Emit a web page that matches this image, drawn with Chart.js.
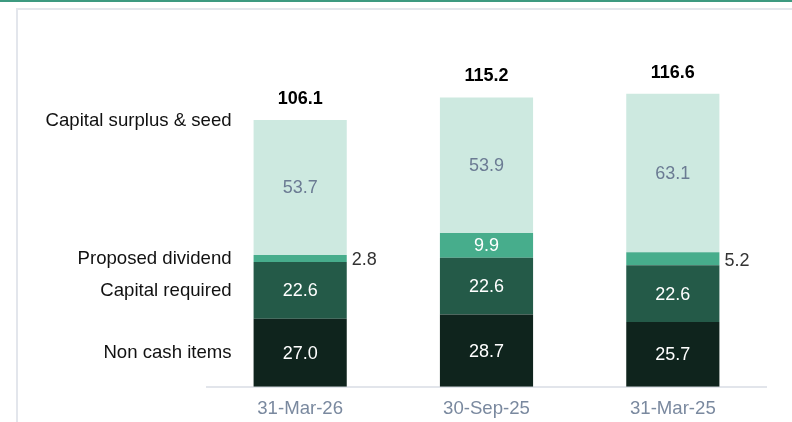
<!DOCTYPE html>
<html>
<head>
<meta charset="utf-8">
<script src="https://cdn.jsdelivr.net/npm/chart.js@4/dist/chart.umd.min.js"></script>
<style>
  html, body { margin: 0; padding: 0; background: #fff; }
  #wrap { position: relative; width: 792px; height: 422px; overflow: hidden; }
  #topline { position: absolute; left: 0; top: 0; width: 792px; height: 2px; background: #3d9a80; }
  #frame { position: absolute; left: 16px; top: 8px; right: -10px; bottom: -10px;
           border-left: 2px solid #e3e6ec; border-top: 2px solid #e3e6ec; }
  canvas { position: absolute; left: 0; top: 0; }
</style>
</head>
<body>
<div id="wrap">
  <div id="topline"></div>
  <div id="frame"></div>
  <canvas id="chart" width="792" height="431"></canvas>
</div>
<script>
const categories = ['31-Mar-26', '30-Sep-25', '31-Mar-25'];
const seriesNames = ['Non cash items', 'Capital required', 'Proposed dividend', 'Capital surplus & seed'];
const nonCash = [27.0, 28.7, 25.7];
const capitalRequired = [22.6, 22.6, 22.6];
const dividend = [2.8, 9.9, 5.2];
const surplus = [53.7, 53.9, 63.1];
const totals = [106.1, 115.2, 116.6];

const colors = ['#0f241d', '#245a48', '#47ad8c', '#cde9e0'];
const labelColors = ['#ffffff', '#ffffff', '#ffffff', '#6b7b93'];
const FONT = '"Liberation Sans", Arial, sans-serif';

// labels drawn by hand: values, totals, series names at the left
const labelPlugin = {
  id: 'labels',
  afterDatasetsDraw(chart) {
    const ctx = chart.ctx;
    ctx.save();
    ctx.textBaseline = 'middle';
    chart.data.datasets.forEach((ds, di) => {
      const meta = chart.getDatasetMeta(di);
      meta.data.forEach((bar, i) => {
        const v = ds.data[i];
        const mid = (bar.y + bar.base) / 2;
        ctx.font = '18px ' + FONT;
        if (Math.abs(bar.base - bar.y) < 16) {
          ctx.fillStyle = '#333';
          ctx.textAlign = 'left';
          ctx.fillText(v.toFixed(1), bar.x + bar.width / 2 + 5, mid + 2);
        } else {
          ctx.fillStyle = labelColors[di];
          ctx.textAlign = 'center';
          ctx.fillText(v.toFixed(1), bar.x, mid + 1);
        }
      });
      // series name next to the first bar
      const first = meta.data[0];
      const y = di === 3 ? first.y + 1 : (first.y + first.base) / 2;
      ctx.font = '18.6px ' + FONT;
      ctx.fillStyle = '#111';
      ctx.textAlign = 'right';
      ctx.fillText(ds.label, first.x - first.width / 2 - 22, y);
    });
    const top = chart.getDatasetMeta(chart.data.datasets.length - 1);
    top.data.forEach((bar, i) => {
      ctx.font = 'bold 18px ' + FONT;
      ctx.fillStyle = '#000';
      ctx.textAlign = 'center';
      ctx.fillText(totals[i].toFixed(1), bar.x, bar.y - 21);
    });
    ctx.restore();
  }
};

const seriesData = [nonCash, capitalRequired, dividend, surplus];

new Chart(document.getElementById('chart'), {
  type: 'bar',
  data: {
    labels: categories,
    datasets: seriesData.map((d, i) => ({
      label: seriesNames[i],
      data: d,
      backgroundColor: colors[i],
      borderWidth: 0,
      categoryPercentage: 1,
      barPercentage: 0.5
    }))
  },
  options: {
    responsive: false,
    animation: false,
    layout: { padding: { left: 207, right: 26, top: 60, bottom: 0 } },
    plugins: { legend: { display: false }, tooltip: { enabled: false } },
    scales: {
      x: {
        stacked: true,
        grid: { display: false, drawTicks: false },
        border: { display: true, color: '#e2e5eb', width: 2 },
        ticks: { color: '#7a899f', font: { family: FONT, size: 18.6 }, padding: 11 }
      },
      y: {
        stacked: true,
        display: false,
        min: 0,
        max: 130
      }
    }
  },
  plugins: [labelPlugin]
});
</script>
</body>
</html>
